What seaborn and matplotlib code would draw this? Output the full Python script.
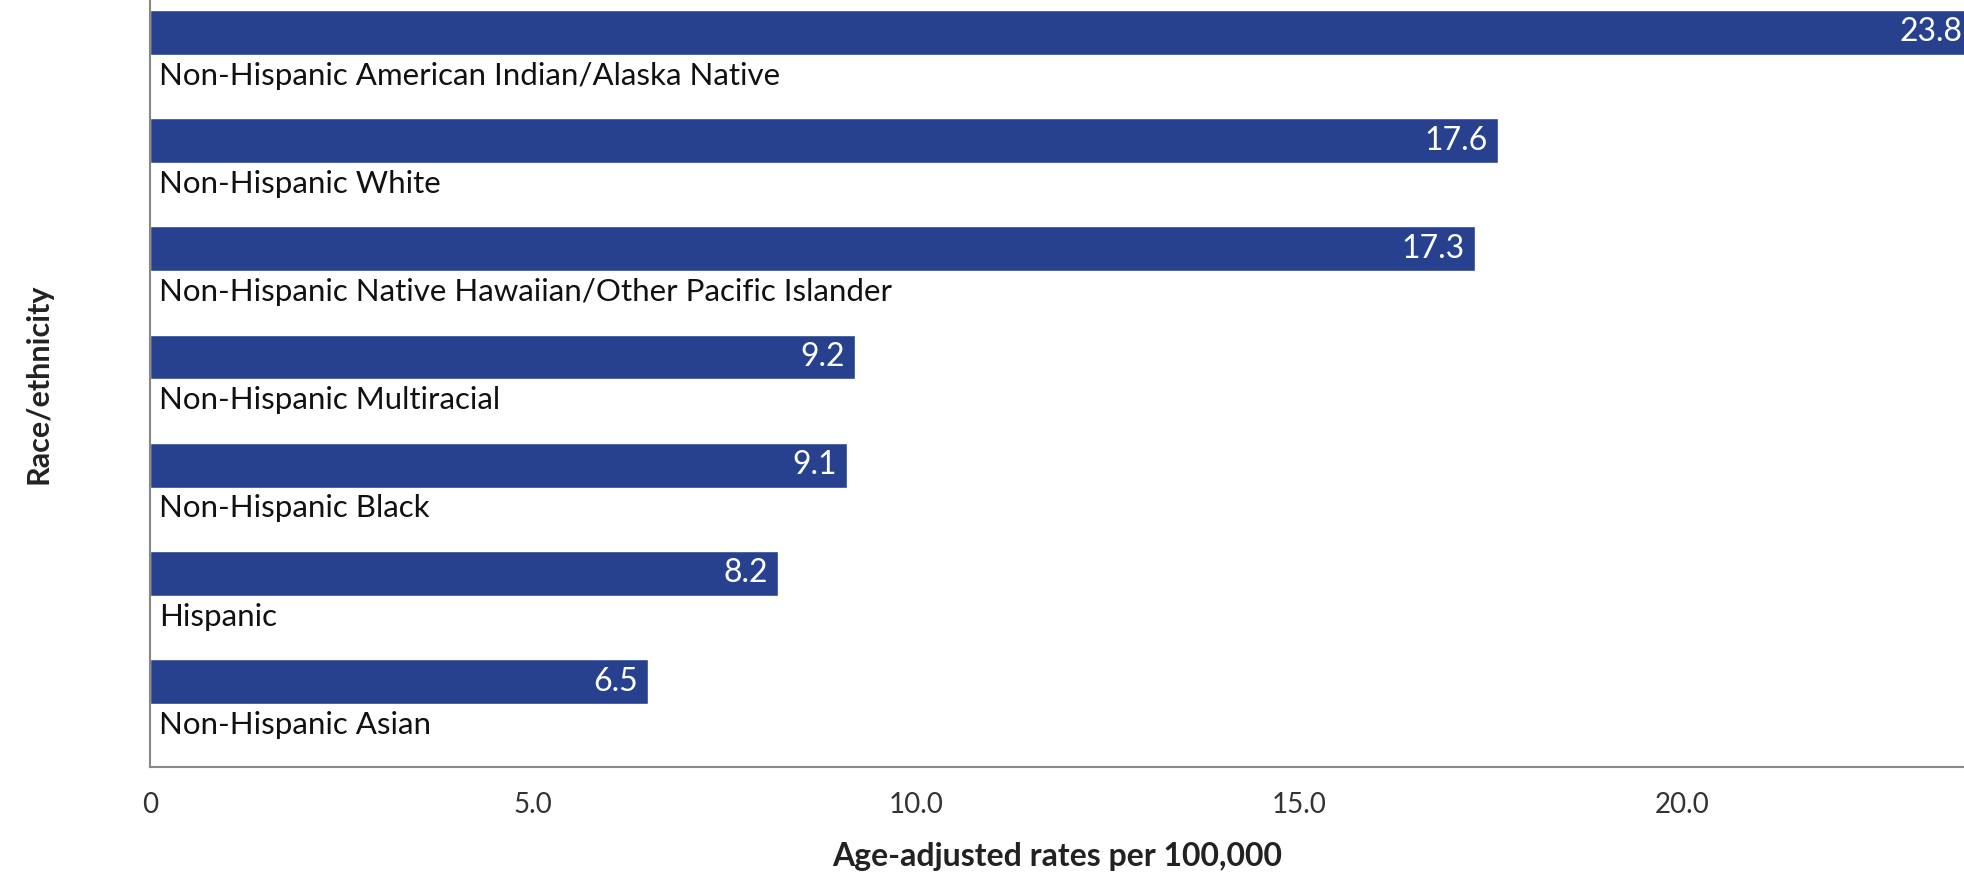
import matplotlib
matplotlib.use("Agg")
import matplotlib.pyplot as plt
import seaborn as sns
import pandas as pd

categories = [
    "Non-Hispanic American Indian/Alaska Native",
    "Non-Hispanic White",
    "Non-Hispanic Native Hawaiian/Other Pacific Islander",
    "Non-Hispanic Multiracial",
    "Non-Hispanic Black",
    "Hispanic",
    "Non-Hispanic Asian",
]
rates = [23.8, 17.6, 17.3, 9.2, 9.1, 8.2, 6.5]
xticks = [0, 5, 10, 15, 20]
xtick_labels = ["0", "5.0", "10.0", "15.0", "20.0"]

sns.set_theme(style="white")
plt.rcParams["font.family"] = ["Lato", "DejaVu Sans"]

BAR = "#27418f"
GRAY = "#888888"

df = pd.DataFrame({"cat": categories, "rate": rates})

fig = plt.figure(figsize=(19.65, 8.72), dpi=100)
ax = fig.add_axes([150 / 1965, 1 - 767 / 872, 1 - 150 / 1965, 767 / 872])
sns.barplot(data=df, x="rate", y="cat", orient="h", color=BAR, width=0.415,
            saturation=1, ax=ax)

ax.set_xlim(0, 23.7)
ax.set_ylim(6.79, -0.30)
ax.set_yticks([])
ax.set_xticks(xticks)
ax.set_xticklabels(xtick_labels, fontsize=20, color="#333333")
ax.tick_params(axis="x", direction="out", length=8, width=1, color=GRAY, pad=10)

for s in ["top", "right"]:
    ax.spines[s].set_visible(False)
for s in ["left", "bottom"]:
    ax.spines[s].set_color(GRAY)
    ax.spines[s].set_linewidth(1.5)

for i, (c, v) in enumerate(zip(categories, rates)):
    ax.annotate(c, xy=(0, i + 0.40), xytext=(9, 0), textcoords="offset pixels",
                ha="left", va="center", fontsize=22.5, color="#111111",
                annotation_clip=False)
    ax.annotate(f"{v:.1f}", xy=(v, i), xytext=(-10, 0), textcoords="offset pixels",
                ha="right", va="center", fontsize=23, color="white",
                annotation_clip=False)

ax.set_xlabel("Age-adjusted rates per 100,000", fontsize=23, fontweight="bold",
              color="#222222", labelpad=17)
ax.set_ylabel("Race/ethnicity", fontsize=22, fontweight="bold", color="#222222")
ax.yaxis.set_label_coords(-(150 - 52) / 1815, 0.5)

fig.savefig("out.png", dpi=100)
